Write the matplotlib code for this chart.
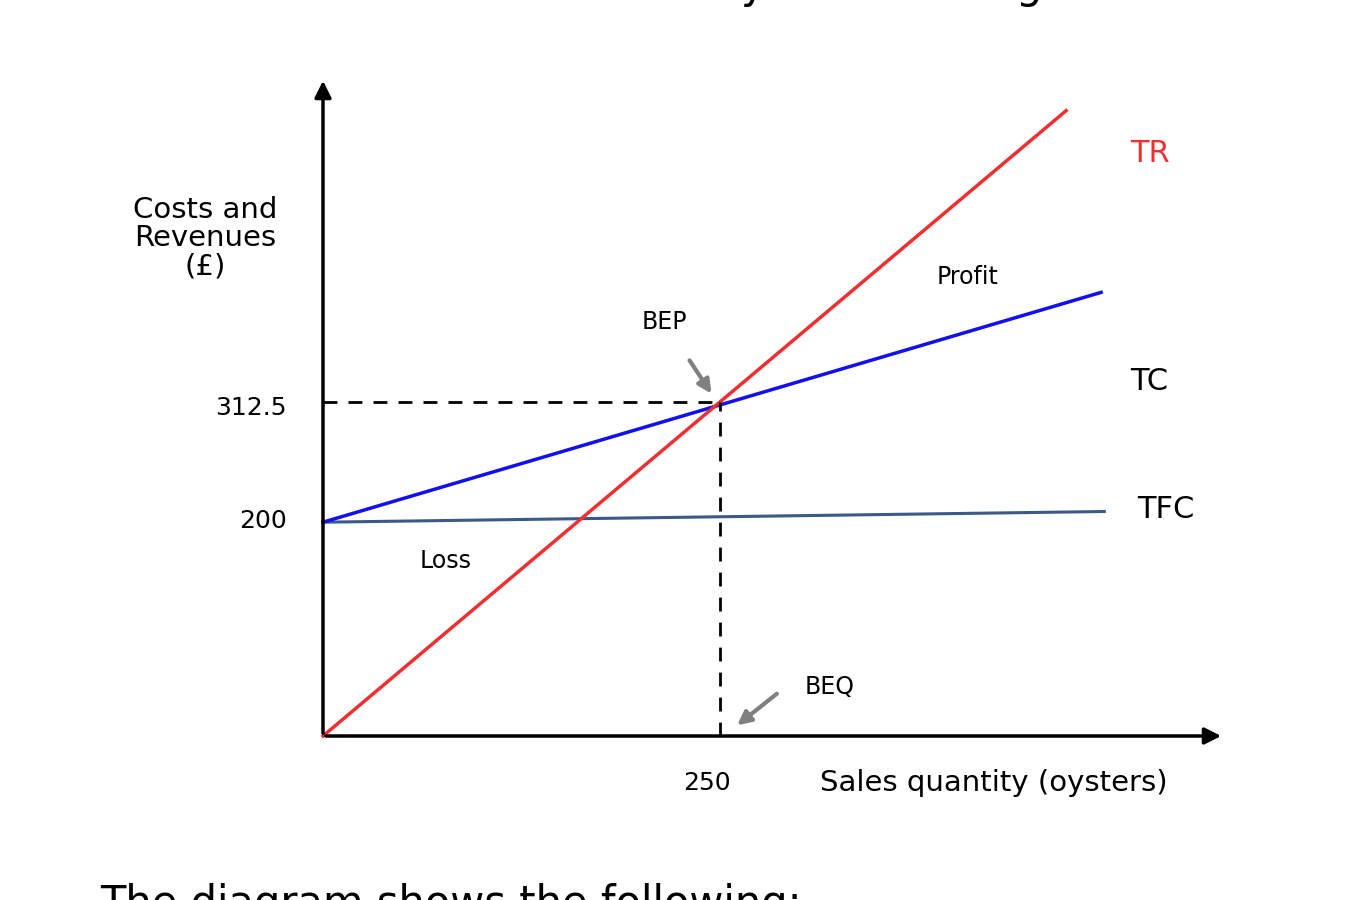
import matplotlib.pyplot as plt

plt.rcParams['font.family'] = ['DejaVu Sans']

# --- data (units: oysters, pounds) ---
FIXED_COST = 200
BEQ = 250
BEP_VALUE = 312.5
tr_x = [0, 468]
tr_y = [0, 585]
tc_x = [0, 490]
tc_y = [200, 415]
tfc_x = [0, 492]
tfc_y = [200, 210]

# pixel -> data mapping for a 1352x900 canvas
X0, XS = 323, 1.588
Y0, YS = 736, 1.069


def px(x, y):
    return (x - X0) / XS, (Y0 - y) / YS


fig = plt.figure(figsize=(13.52, 9), dpi=100)
ax = fig.add_axes([0, 0, 1, 1])
ax.set_xlim(px(0, 0)[0], px(1352, 0)[0])
ax.set_ylim(px(0, 900)[1], px(0, 0)[1])
ax.axis('off')

# axes arrows
ax.annotate('', xy=px(1224, 736), xytext=(0, 0),
            arrowprops=dict(arrowstyle='-|>', color='black', lw=2.5, mutation_scale=25))
ax.annotate('', xy=px(323, 78), xytext=(0, 0),
            arrowprops=dict(arrowstyle='-|>', color='black', lw=2.5, mutation_scale=25))

ax.plot(tfc_x, tfc_y, color='#3b5a8a', lw=2.2)
ax.plot(tc_x, tc_y, color='#1010f0', lw=2.5)
ax.plot(tr_x, tr_y, color='#f03030', lw=2.5)

ax.plot([0, BEQ], [BEP_VALUE, BEP_VALUE], 'k--', lw=2, dashes=(5, 4))
ax.plot([BEQ, BEQ], [0, BEP_VALUE], 'k--', lw=2, dashes=(5, 4))

# gray arrows
ax.annotate('', xy=px(713, 396), xytext=px(688, 358),
            arrowprops=dict(arrowstyle='-|>', color='#808080', lw=3, mutation_scale=20))
ax.annotate('', xy=px(735, 727), xytext=px(779, 692),
            arrowprops=dict(arrowstyle='-|>', color='#808080', lw=3, mutation_scale=20))

# labels
ax.text(*px(205, 238), 'Costs and\nRevenues\n(£)', ha='center', va='center',
        fontsize=21, linespacing=1.0)
ax.text(*px(287, 408), '312.5', ha='right', va='center', fontsize=18)
ax.text(*px(287, 521), '200', ha='right', va='center', fontsize=18)
ax.text(*px(707, 783), '250', ha='center', va='center', fontsize=18)
ax.text(*px(820, 783), 'Sales quantity (oysters)', ha='left', va='center', fontsize=21)
ax.text(*px(1130, 153), 'TR', color='#f03030', ha='left', va='center', fontsize=22)
ax.text(*px(1130, 382), 'TC', ha='left', va='center', fontsize=22)
ax.text(*px(1137, 510), 'TFC', ha='left', va='center', fontsize=22)
ax.text(*px(968, 277), 'Profit', ha='center', va='center', fontsize=17)
ax.text(*px(664, 322), 'BEP', ha='center', va='center', fontsize=17)
ax.text(*px(446, 561), 'Loss', ha='center', va='center', fontsize=17)
ax.text(*px(830, 687), 'BEQ', ha='center', va='center', fontsize=17)

# clipped page text above and below
fig.text(0.5, 1 + 14 / 900, 'Break-even chart for oysters at Boogie', ha='center',
         va='center', fontsize=30)
fig.text(100 / 1352, 1 - 883 / 900, 'The diagram shows the following:', ha='left',
         va='top', fontsize=30)

fig.savefig('out.png', dpi=100)
